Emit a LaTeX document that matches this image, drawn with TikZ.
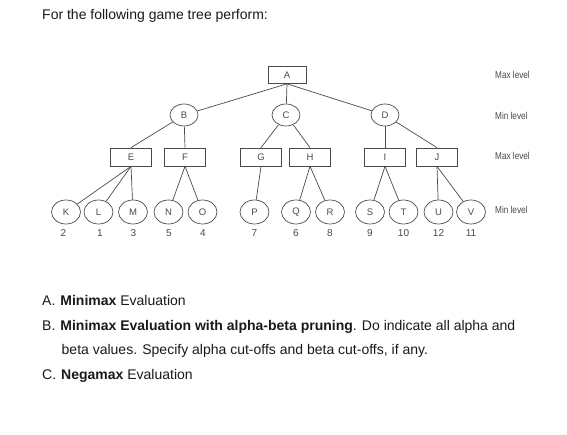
\documentclass[tikz,border=0pt]{standalone}
\usepackage{fontspec}
\setmainfont{Liberation Sans}
\usetikzlibrary{shapes.geometric}
\definecolor{ln}{HTML}{4A4A4A}
\definecolor{tx}{HTML}{1A1A1A}
\tikzset{
  maxbox/.style={draw=ln, line width=0.7pt, minimum width=41pt, minimum height=18pt, inner sep=0pt, font=\fontsize{9.5}{10}\selectfont, text=ln},
  minell/.style={draw=ln, line width=0.7pt, ellipse, minimum width=28pt, minimum height=22pt, inner sep=0pt, font=\fontsize{9.5}{10}\selectfont, text=ln},
  leaf/.style={draw=ln, line width=0.7pt, ellipse, minimum width=29pt, minimum height=24pt, inner sep=0pt, font=\fontsize{9.5}{10}\selectfont, text=ln},
  val/.style={font=\fontsize{10}{11}\selectfont, text=ln, inner sep=0pt},
  lvl/.style={font=\fontsize{10}{11}\selectfont, text=ln, anchor=west, inner sep=0pt, xscale=0.82},
  edge/.style={draw=ln, line width=0.7pt},
  body/.style={font=\fontsize{14}{16}\selectfont, text=tx, anchor=west, inner sep=0pt}
}
\begin{document}
\begin{tikzpicture}[x=1pt,y=-1pt]
\useasboundingbox (0,0) rectangle (567,435);
\fill[white] (0,0) rectangle (567,435);
\node[body] (title) at (42,16) {For the following game tree perform:};
% level 0
\node[maxbox, minimum width=38pt, minimum height=17pt] (A) at (287,75) {A};
% level 1
\node[minell] (B) at (184,115) {B};
\node[minell] (C) at (286,115) {C};
\node[minell] (D) at (385,115) {D};
% level 2
\node[maxbox] (E) at (131,157) {E};
\node[maxbox] (F) at (185,157) {F};
\node[maxbox] (G) at (261,157) {G};
\node[maxbox] (H) at (310,157) {H};
\node[maxbox] (I) at (385,157) {I};
\node[maxbox] (J) at (437,157) {J};
% leaves
\node[leaf] (K) at (66,212) {K};
\node[leaf] (L) at (98.5,212) {L};
\node[leaf] (M) at (133,212) {M};
\node[leaf] (N) at (168.5,212) {N};
\node[leaf] (O) at (202.5,212) {O};
\node[leaf] (P) at (254.5,212) {P};
\node[leaf] (Q) at (296,212) {Q};
\node[leaf] (R) at (330,212) {R};
\node[leaf] (S) at (370,212) {S};
\node[leaf] (T) at (403.5,212) {T};
\node[leaf] (U) at (438.5,212) {U};
\node[leaf] (V) at (471,212) {V};
% values
\node[val] (vK) at (63.5,233.5) {2};
\node[val] (vL) at (100,233.5) {1};
\node[val] (vM) at (133.5,233.5) {3};
\node[val] (vN) at (169,233.5) {5};
\node[val] (vO) at (203,233.5) {4};
\node[val] (vP) at (254.5,233.5) {7};
\node[val] (vQ) at (296,233.5) {6};
\node[val] (vR) at (330,233.5) {8};
\node[val] (vS) at (370,233.5) {9};
\node[val] (vT) at (403.5,233.5) {10};
\node[val] (vU) at (438.5,233.5) {12};
\node[val] (vV) at (471,233.5) {11};
% level labels
\node[lvl] (l0) at (495,75) {Max level};
\node[lvl] (l1) at (495,115.5) {Min level};
\node[lvl] (l2) at (495,156) {Max level};
\node[lvl] (l3) at (495,209.5) {Min level};
% edges
\draw[edge] (A.south) -- (B);
\draw[edge] (A.south) -- (C);
\draw[edge] (A.south) -- (D);
\draw[edge] (B) -- (E.north);
\draw[edge] (B) -- (F.north);
\draw[edge] (C) -- (G.north);
\draw[edge] (C) -- (H.north);
\draw[edge] (D) -- (I.north);
\draw[edge] (D) -- (J.north);
\draw[edge] (E.south) -- (K);
\draw[edge] (E.south) -- (L);
\draw[edge] (E.south) -- (M);
\draw[edge] (F.south) -- (N);
\draw[edge] (F.south) -- (O);
\draw[edge] (G.south) -- (P);
\draw[edge] (H.south) -- (Q);
\draw[edge] (H.south) -- (R);
\draw[edge] (I.south) -- (S);
\draw[edge] (I.south) -- (T);
\draw[edge] (J.south) -- (U);
\draw[edge] (J.south) -- (V);
% questions
\node[body] (qa) at (42,300.5) {A.\hspace{5pt}\textbf{Minimax} Evaluation};
\node[body] (qb) at (42,326.5) {B.\hspace{5pt}\textbf{Minimax Evaluation with alpha-beta pruning}. Do indicate all alpha and};
\node[body] (qb2) at (61.5,351) {beta values. Specify alpha cut-offs and beta cut-offs, if any.};
\node[body] (qc) at (42,375.5) {C.\hspace{5pt}\textbf{Negamax} Evaluation};
\end{tikzpicture}
\end{document}
